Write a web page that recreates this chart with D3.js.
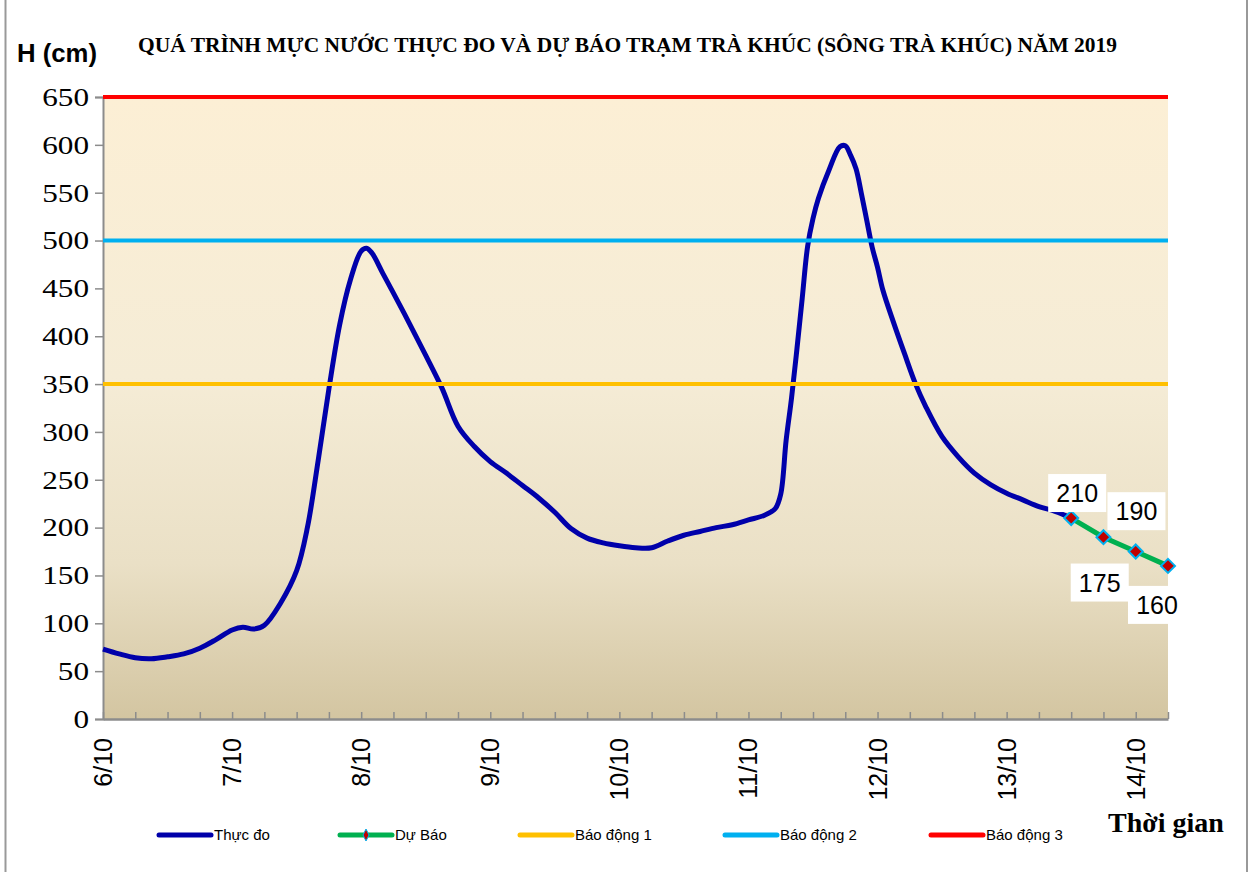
<!DOCTYPE html>
<html>
<head>
<meta charset="utf-8">
<script src="https://cdn.jsdelivr.net/npm/d3@7"></script>
<style>
    body { margin: 0; background: #fff; }
    svg { display: block; }
    .y-axis text { font-family: "Liberation Serif", "DejaVu Serif", serif; font-size: 26px; }
</style>
</head>
<body>
<div id="chart"></div>
<script>
// data (hours counted from 6/10 00h)
const hours = [0, 3, 6, 9, 12, 15, 18, 21, 24, 26, 28, 30, 33, 36, 38, 40, 42, 44, 46, 48,
    49, 50, 52, 54, 57, 60, 63, 66, 69, 72, 75, 78, 81, 84, 87, 90, 93, 96, 99,
    102, 105, 108, 111, 114, 117, 120, 123, 125, 126, 127, 128, 129, 130, 131, 132, 133, 135, 137, 138,
    139, 140, 141, 142, 143, 144, 145, 147, 149, 151, 153, 156, 159, 162, 165, 168, 171, 174, 177, 180];
const observed = [73, 68, 64, 63, 65, 68, 74, 83, 93, 96, 94, 98, 121, 155, 200, 270, 345, 412, 459, 489,
    492, 487, 466, 445, 413, 380, 346, 306, 285, 269, 257, 244, 231, 216, 199, 189, 184, 181, 179,
    179, 186, 192, 196, 200, 203, 208, 213, 220, 235, 291, 335, 386, 440, 494, 523, 544, 574, 598, 599,
    589, 575, 549, 521, 493, 472, 448, 414, 382, 351, 326, 295, 274, 257, 245, 236, 229, 222, 217, 210];

const forecastHours = [180, 186, 192, 198];
const forecast = [210, 190, 175, 160];

const dayLabels = ['6/10', '7/10', '8/10', '9/10', '10/10', '11/10', '12/10', '13/10', '14/10'];
const yTicks = [0, 50, 100, 150, 200, 250, 300, 350, 400, 450, 500, 550, 600, 650];

const alarmNames = ['Báo động 1', 'Báo động 2', 'Báo động 3'];
const alarmLevels = [350, 500, 650];

const title = 'QUÁ TRÌNH MỰC NƯỚC THỰC ĐO VÀ DỰ BÁO TRẠM TRÀ KHÚC (SÔNG TRÀ KHÚC) NĂM 2019';

// 1. svg + margin convention
const W = 1259, H = 872;
const margin = { top: 97, right: 91, bottom: 153, left: 103 };
const width = W - margin.left - margin.right;
const height = H - margin.top - margin.bottom;

const serif = '"Liberation Serif", "Times New Roman", serif';
const sans = '"Liberation Sans", Arial, sans-serif';

const colors = {
    observed: '#0000AA',
    forecast: '#00B050',
    alarm: ['#FFC000', '#00B0F0', '#FF0000'],
    axis: '#8c8c8c'
};

const svg = d3.select('#chart').append('svg')
    .attr('width', W)
    .attr('height', H);

svg.append('rect').attr('width', W).attr('height', H).attr('fill', '#fff');

// chart frame
svg.append('line').attr('x1', 5.5).attr('x2', 5.5).attr('y1', 0).attr('y2', H)
    .attr('stroke', '#999').attr('stroke-width', 2);
svg.append('line').attr('x1', 1247).attr('x2', 1247).attr('y1', 0).attr('y2', H)
    .attr('stroke', '#999').attr('stroke-width', 2);

const defs = svg.append('defs');
const grad = defs.append('linearGradient').attr('id', 'bg')
    .attr('x1', 0).attr('y1', 0).attr('x2', 0).attr('y2', 1);
grad.append('stop').attr('offset', '0%').attr('stop-color', '#FCEFD5');
grad.append('stop').attr('offset', '45%').attr('stop-color', '#F5ECD6');
grad.append('stop').attr('offset', '75%').attr('stop-color', '#EAE0C6');
grad.append('stop').attr('offset', '100%').attr('stop-color', '#D3C5A1');

const group = svg.append('g')
    .attr('transform', 'translate(' + margin.left + ',' + margin.top + ')');

// 2. scales
const xScale = d3.scaleLinear().domain([0, 198]).range([0, width]);
const yScale = d3.scaleLinear().domain([0, 650]).range([height, 0]);

group.append('rect')
    .attr('width', width)
    .attr('height', height)
    .attr('fill', 'url(#bg)');

// 3. axes
const yAxis = d3.axisLeft(yScale).tickValues(yTicks).tickSize(8).tickPadding(6);
const yAxisGroup = group.append('g').attr('class', 'y-axis').call(yAxis);
yAxisGroup.attr('font-family', serif).attr('font-size', 26);
yAxisGroup.select('.domain').attr('stroke', colors.axis).attr('stroke-width', 2);
yAxisGroup.selectAll('.tick line').attr('stroke', colors.axis).attr('stroke-width', 1.5);
yAxisGroup.selectAll('.tick text')
    .attr('fill', '#000')
    .attr('transform', 'scale(1.2,1)')
    .attr('x', -14 / 1.2);

const xTickValues = d3.range(0, 199, 6);
const xAxis = d3.axisBottom(xScale).tickValues(xTickValues)
    .tickSizeInner(-7).tickSizeOuter(0).tickFormat('');
const xAxisGroup = group.append('g').attr('class', 'x-axis')
    .attr('transform', 'translate(0,' + height + ')')
    .call(xAxis);
xAxisGroup.select('.domain').attr('stroke', colors.axis).attr('stroke-width', 2.5);
xAxisGroup.selectAll('.tick line').attr('stroke', colors.axis).attr('stroke-width', 1.5);

group.selectAll('.day-label')
    .data(dayLabels)
    .enter()
    .append('text')
    .attr('class', 'day-label')
    .attr('transform', (d, i) => 'translate(' + xScale(i * 24) + ',' + (height + 19) + ') rotate(-90)')
    .attr('text-anchor', 'end')
    .attr('dy', '0.36em')
    .style('font-family', sans)
    .style('font-size', '25px')
    .attr('fill', '#000')
    .text(d => d);

// 4. series
const line = d3.line()
    .x(d => xScale(d[0]))
    .y(d => yScale(d[1]))
    .curve(d3.curveCatmullRom.alpha(0.5));

group.append('path')
    .datum(hours.map((h, i) => [h, observed[i]]))
    .attr('fill', 'none')
    .attr('stroke', colors.observed)
    .attr('stroke-width', 5)
    .attr('stroke-linejoin', 'round')
    .attr('d', line);

const forecastData = forecastHours.map((h, i) => [h, forecast[i]]);
group.append('path')
    .datum(forecastData)
    .attr('fill', 'none')
    .attr('stroke', colors.forecast)
    .attr('stroke-width', 5)
    .attr('d', d3.line().x(d => xScale(d[0])).y(d => yScale(d[1])));

group.selectAll('.marker')
    .data(forecastData)
    .enter()
    .append('path')
    .attr('class', 'marker')
    .attr('transform', d => 'translate(' + xScale(d[0]) + ',' + yScale(d[1]) + ')')
    .attr('d', 'M0,-7L7,0L0,7L-7,0Z')
    .attr('fill', '#C00000')
    .attr('stroke', '#00B0F0')
    .attr('stroke-width', 2);

// alarm lines on top
group.selectAll('.alarm')
    .data(alarmLevels)
    .enter()
    .append('line')
    .attr('class', 'alarm')
    .attr('x1', 0)
    .attr('x2', width)
    .attr('y1', d => yScale(d))
    .attr('y2', d => yScale(d))
    .attr('stroke', (d, i) => colors.alarm[i])
    .attr('stroke-width', 4);

// data labels with white boxes
const labelOffsets = [[6, -25], [33, -26], [-36, 31], [-11, 39]];
const labels = group.selectAll('.dlabel')
    .data(forecastData)
    .enter()
    .append('g')
    .attr('class', 'dlabel')
    .attr('transform', (d, i) => 'translate(' + (xScale(d[0]) + labelOffsets[i][0]) + ','
        + (yScale(d[1]) + labelOffsets[i][1]) + ')');
labels.append('rect')
    .attr('x', -29).attr('y', -19).attr('width', 58).attr('height', 38)
    .attr('fill', '#fff');
labels.append('text')
    .attr('text-anchor', 'middle')
    .attr('dy', '0.36em')
    .style('font-family', sans)
    .style('font-size', '25px')
    .attr('fill', '#000')
    .text(d => d[1]);

// 5. titles
svg.append('text')
    .attr('x', 17).attr('y', 62)
    .style('font-family', sans)
    .style('font-weight', 'bold')
    .style('font-size', '26px')
    .attr('textLength', 80)
    .attr('lengthAdjust', 'spacingAndGlyphs')
    .text('H (cm)');

svg.append('text')
    .attr('x', 138).attr('y', 52)
    .style('font-family', serif)
    .style('font-weight', 'bold')
    .style('font-size', '21px')
    .attr('textLength', 979)
    .attr('lengthAdjust', 'spacingAndGlyphs')
    .text(title);

svg.append('text')
    .attr('x', 1108).attr('y', 832)
    .style('font-family', serif)
    .style('font-weight', 'bold')
    .style('font-size', '28px')
    .text('Thời gian');

// 6. legend
const legendItems = [
    { name: 'Thực đo', color: colors.observed, x: 157 },
    { name: 'Dự Báo', color: colors.forecast, x: 338, marker: true },
    { name: alarmNames[0], color: colors.alarm[0], x: 518 },
    { name: alarmNames[1], color: colors.alarm[1], x: 723 },
    { name: alarmNames[2], color: colors.alarm[2], x: 929 }
];
const legend = svg.append('g').attr('transform', 'translate(0,835)');
const item = legend.selectAll('g')
    .data(legendItems)
    .enter()
    .append('g')
    .attr('transform', d => 'translate(' + d.x + ',0)');
item.append('line')
    .attr('x1', 2).attr('x2', 54)
    .attr('stroke', d => d.color)
    .attr('stroke-width', 5)
    .attr('stroke-linecap', 'round');
item.filter(d => d.marker).append('path')
    .attr('transform', 'translate(28,0)')
    .attr('d', 'M0,-6L3,0L0,6L-3,0Z')
    .attr('fill', '#C00000')
    .attr('stroke', '#00B0F0')
    .attr('stroke-width', 1);
item.append('text')
    .attr('x', 57)
    .attr('dy', '0.36em')
    .style('font-family', sans)
    .style('font-size', '15px')
    .attr('fill', '#000')
    .text(d => d.name);
</script>
</body>
</html>
